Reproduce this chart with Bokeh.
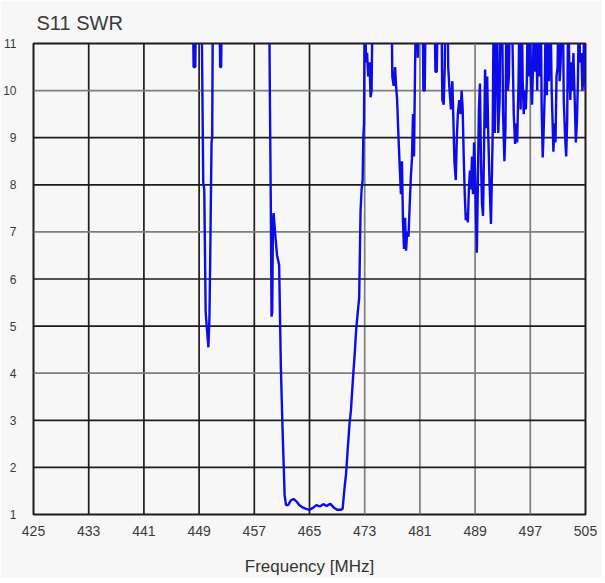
from bokeh.plotting import figure
from bokeh.models import Range1d, FixedTicker, Span
from bokeh.embed import file_html
from bokeh.resources import INLINE

# ---- data (values above 11 are off-scale, clipped by the frame) ----
FREQ_MHZ = [
    425.0, 448.1, 448.2, 448.45, 448.55,
    449.35, 449.45, 449.6, 449.75, 449.95, 450.1, 450.35, 450.5, 450.6, 450.8, 450.9, 451.0,
    451.95, 452.05, 452.2, 452.3,
    459.15, 459.25, 459.4, 459.5, 459.6, 459.7, 459.8, 460.0, 460.3, 460.6, 460.85, 461.1, 461.4, 461.6,
    461.9, 462.3, 462.7, 463.1, 463.5, 464.0, 464.5, 465.0, 465.5, 466.0, 466.5, 467.0, 467.5, 468.0,
    468.5, 469.0, 469.5, 469.8, 470.1, 470.3, 470.5, 470.8, 471.0, 471.35, 471.55, 471.75, 472.0, 472.2,
    472.4, 472.55, 472.7, 472.8, 472.9, 473.0,
    473.2, 473.35, 473.5, 473.7, 473.85, 474.0, 474.15,
    476.9, 477.0, 477.2, 477.4, 477.55, 477.7, 477.9, 478.1, 478.25, 478.4, 478.55, 478.7, 478.85, 479.0,
    479.15, 479.35, 479.5, 479.7, 479.85, 480.0, 480.15, 480.3, 480.45,
    480.6, 480.7, 480.85, 481.4, 481.5, 481.7, 481.85,
    483.1, 483.25, 483.45, 483.6, 484.1, 484.25, 484.45, 484.6, 484.7,
    485.0, 485.1, 485.3, 485.5, 485.7, 485.85, 486.0, 486.2, 486.35, 486.5, 486.7, 486.9, 487.05, 487.2,
    487.35, 487.5, 487.65, 487.8, 487.95, 488.1, 488.25, 488.4, 488.55, 488.7, 488.85, 489.0, 489.1,
    489.25, 489.4, 489.55, 489.7, 489.85, 490.0, 490.15, 490.3, 490.45, 490.6, 490.75, 490.9, 491.1,
    491.3, 491.45, 491.55, 491.7, 491.85, 492.0, 492.15, 492.35, 492.55, 492.7,
    492.9, 493.05, 493.25, 493.4, 493.55, 493.75, 493.9, 494.05,
    494.3, 494.6, 494.8, 494.95, 495.1, 495.3, 495.45, 495.6, 495.75, 495.9, 496.05, 496.2, 496.35,
    496.5, 496.65, 496.8, 496.95, 497.1, 497.25, 497.4, 497.55, 497.7, 497.85, 498.0, 498.15, 498.3,
    498.5, 498.65, 498.8, 498.95, 499.1, 499.25, 499.4, 499.55, 499.7, 499.9, 500.1, 500.35, 500.5,
    500.65, 500.8, 500.95, 501.1, 501.25, 501.4, 501.55, 501.7, 501.85, 502.05, 502.2, 502.35, 502.5,
    502.65, 502.8, 502.95, 503.1, 503.25, 503.4, 503.6, 503.75, 503.9, 504.05, 504.2, 504.4, 504.55,
    504.7, 504.85, 505.0,
]
SWR = [
    12, 12, 10.5, 10.5, 12,
    12, 10.4, 8.05, 7.9, 5.3, 5.0, 4.55, 5.2, 6.3, 8.9, 9.0, 12,
    12, 10.5, 10.5, 12,
    12, 10.03, 7.45, 5.2, 5.3, 7.2, 7.4, 7.0, 6.5, 6.3, 4.12, 2.78, 1.4, 1.2,
    1.2, 1.3, 1.33, 1.28, 1.2, 1.15, 1.12, 1.1, 1.14, 1.2, 1.17, 1.22, 1.18, 1.23,
    1.15, 1.1, 1.1, 1.12, 1.6, 1.86, 2.3, 2.93, 3.2, 4.0, 4.4, 4.9, 5.3, 5.6,
    7.45, 7.9, 8.1, 9.0, 9.3, 12,
    10.6, 10.8, 10.3, 10.6, 9.86, 10.0, 12,
    12, 10.3, 10.1, 10.5, 10.1, 9.8, 9.0, 8.3, 7.8, 8.5, 7.2, 6.64, 7.3, 6.6,
    7.0, 6.9, 7.5, 8.2, 8.55, 9.5, 8.6, 10.5, 12,
    12, 10.7, 12, 12, 10.0, 10.0, 12,
    12, 10.4, 10.4, 12, 12, 9.8, 9.7, 10.5, 12,
    12, 10.5, 10.0, 9.6, 10.2, 9.4, 8.5, 8.1, 9.0, 9.5, 9.8, 9.5, 10.0, 9.6,
    8.6, 7.8, 7.25, 7.4, 7.2, 7.9, 8.3, 7.9, 8.6, 7.8, 8.9, 8.3, 7.5,
    6.56, 8.0, 9.6, 10.15, 8.5, 7.6, 7.34, 8.8, 10.45, 9.2, 10.3, 9.1, 8.0,
    7.17, 8.3, 9.1, 12, 9.1, 10.4, 12, 9.1, 9.8, 12,
    12, 9.5, 8.5, 9.2, 12, 10.0, 10.3, 12,
    12, 9.5, 8.87, 9.3, 8.9, 10.2, 12, 9.6, 12, 10.2, 9.5, 10.0, 9.6,
    10.2, 12, 10.3, 12, 10.2, 9.7, 10.5, 12, 10.4, 12, 10.0, 12, 10.3,
    12, 9.6, 8.58, 9.2, 10.0, 12, 9.9, 12, 10.2, 12, 10.0, 8.7, 9.3,
    8.9, 10.3, 10.5, 12, 10.2, 10.6, 12, 12, 9.8, 9.0, 8.6, 9.4, 12,
    10.5, 9.8, 10.6, 10.0, 10.8, 10.0, 8.9, 9.3, 10.2, 12, 10.6, 10.8, 10.0,
    10.3, 12, 10.0,
]
X_TICKS = [425, 433, 441, 449, 457, 465, 473, 481, 489, 497, 505]
Y_TICKS = [1, 2, 3, 4, 5, 6, 7, 8, 9, 10, 11]
TITLE = "S11 SWR"
X_LABEL = "Frequency [MHz]"

# ---- styling ----
BG = "#f7f7f7"
DARK = "#1c1c1c"
LIGHT = "#7e7e7e"
LIGHT_X = {473, 481, 489, 497, 505}
LIGHT_Y = {10, 7, 4}
FONT = "Liberation Sans"

p = figure(
    frame_width=552, frame_height=471,
    x_range=Range1d(X_TICKS[0], X_TICKS[-1]),
    y_range=Range1d(Y_TICKS[0], Y_TICKS[-1]),
    output_backend="svg", toolbar_location=None,
    min_border_left=26, min_border_right=17, min_border_top=43, min_border_bottom=62,
    background_fill_color=BG, border_fill_color=BG,
    title=TITLE,
)
p.outline_line_color = DARK
p.outline_line_width = 2
p.xgrid.visible = False
p.ygrid.visible = False

for t in X_TICKS[1:-1]:
    p.add_layout(Span(location=t, dimension="height", level="underlay",
                      line_color=LIGHT if t in LIGHT_X else DARK, line_width=1.7))
for t in Y_TICKS[1:-1]:
    p.add_layout(Span(location=t, dimension="width", level="underlay",
                      line_color=LIGHT if t in LIGHT_Y else DARK, line_width=1.7))

p.line(FREQ_MHZ, SWR, line_color="#0c0ce8", line_width=2.4)

p.title.text_font = FONT
p.title.text_font_size = "20px"
p.title.text_font_style = "normal"
p.title.text_color = "#3a3a3a"
p.title.align = "left"
p.title.offset = 3
p.title.standoff = 19

for ax in (p.xaxis[0], p.yaxis[0]):
    ax.axis_line_color = None
    ax.major_tick_line_color = None
    ax.minor_tick_line_color = None
    ax.major_label_text_font = FONT
    ax.major_label_text_color = "#3a3a3a"

p.xaxis.ticker = FixedTicker(ticks=X_TICKS)
p.yaxis.ticker = FixedTicker(ticks=Y_TICKS)
p.xaxis.major_label_text_font_size = "14px"
p.yaxis.major_label_text_font_size = "12px"
p.xaxis.major_label_standoff = 5
p.yaxis.major_label_standoff = 11
p.xaxis.axis_label = X_LABEL
p.xaxis.axis_label_text_font = FONT
p.xaxis.axis_label_text_font_size = "17px"
p.xaxis.axis_label_text_font_style = "normal"
p.xaxis.axis_label_text_color = "#333333"
p.xaxis.axis_label_standoff = 18

open("out.html", "w").write(file_html(p, INLINE))
